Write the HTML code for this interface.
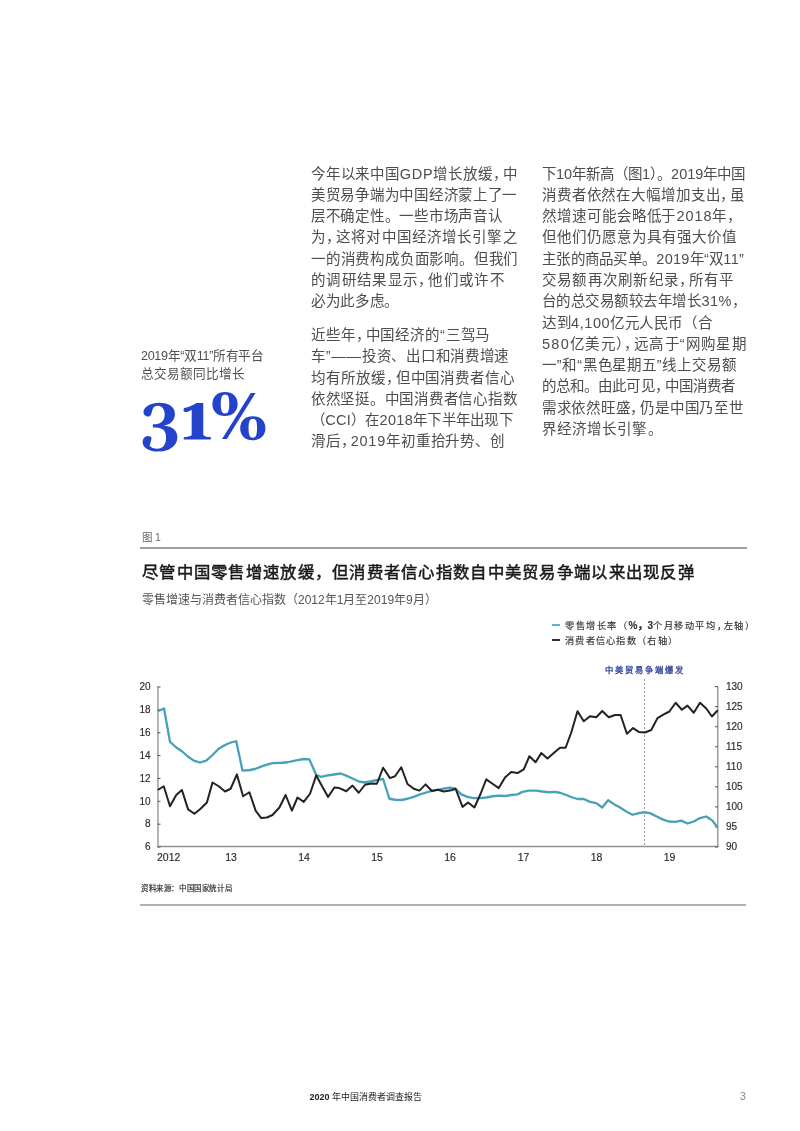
<!DOCTYPE html>
<html lang="zh-CN">
<head>
<meta charset="utf-8">
<style>
html,body{margin:0;padding:0;background:#fff;}
body{width:800px;height:1131px;position:relative;overflow:hidden;font-family:"Liberation Sans",sans-serif;}
.a{position:absolute;white-space:nowrap;}
.body{font-size:14.5px;line-height:21.3px;color:#4d4d4d;}
.body div{height:21.3px;}
.c{letter-spacing:-4px;}
.leg{font-size:9.2px;line-height:12px;color:#333;letter-spacing:1.6px;-webkit-text-stroke:0.15px #333;}
.lc{letter-spacing:-2px;}
.side{font-size:12.6px;line-height:18.5px;color:#505050;}
</style>
</head>
<body>
<div id="w" style="position:absolute;left:0;top:0;width:800px;height:1131px;filter:blur(0.3px);">

<!-- column 1 -->
<div class="a body" style="left:311px;top:163.5px;">
<div style="letter-spacing:0.779px">今年以来中国GDP增长放缓<span class="c">，</span>中</div>
<div style="letter-spacing:0.727px">美贸易争端为中国经济蒙上了一</div>
<div style="letter-spacing:0.733px">层不确定性。一些市场声音认</div>
<div style="letter-spacing:1.127px">为<span class="c">，</span>这将对中国经济增长引擎之</div>
<div style="letter-spacing:0.804px">一的消费构成负面影响。但我们</div>
<div style="letter-spacing:1.333px">的调研结果显示<span class="c">，</span>他们或许不</div>
<div style="letter-spacing:0.650px">必为此多虑。</div>
</div>
<div class="a body" style="left:311px;top:325px;">
<div style="letter-spacing:0.867px">近些年<span class="c">，</span>中国经济的“三驾马</div>
<div style="letter-spacing:0.742px">车”——投资、出口和消费增速</div>
<div style="letter-spacing:0.927px">均有所放缓<span class="c">，</span>但中国消费者信心</div>
<div style="letter-spacing:0.742px">依然坚挺。中国消费者信心指数</div>
<div style="letter-spacing:0.275px">（CCI）在2018年下半年出现下</div>
<div style="letter-spacing:0.807px">滑后<span class="c">，</span>2019年初重拾升势、创</div>
</div>
<div class="a body" style="left:542px;top:163.5px;">
<div style="letter-spacing:-0.009px">下10年新高（图1）。2019年中国</div>
<div style="letter-spacing:0.865px">消费者依然在大幅增加支出<span class="c">，</span>虽</div>
<div style="letter-spacing:0.936px">然增速可能会略低于2018年<span class="c">，</span></div>
<div style="letter-spacing:1.033px">但他们仍愿意为具有强大价值</div>
<div style="letter-spacing:0.285px">主张的商品买单。2019年“双11”</div>
<div style="letter-spacing:1.217px">交易额再次刷新纪录<span class="c">，</span>所有平</div>
<div style="letter-spacing:0.493px">台的总交易额较去年增长31%<span class="c">，</span></div>
<div style="letter-spacing:0.558px">达到4,100亿元人民币（合</div>
<div style="letter-spacing:1.263px">580亿美元）<span class="c">，</span>远高于“网购星期</div>
<div style="letter-spacing:0.793px">一”和“黑色星期五”线上交易额</div>
<div style="letter-spacing:0.081px">的总和。由此可见<span class="c">，</span>中国消费者</div>
<div style="letter-spacing:0.742px">需求依然旺盛<span class="c">，</span>仍是中国乃至世</div>
<div style="letter-spacing:1.079px">界经济增长引擎。</div>
</div>
<!-- sidebar -->
<div class="a side" style="left:141px;top:346.5px;">
<div style="letter-spacing:-0.35px">2019年“双11”所有平台</div>
<div>总交易额同比增长</div>
</div>
<svg class="a" style="left:0;top:0" width="800" height="1131">
<path fill="#2443cb" transform="translate(140.602,439.622) scale(0.03074,-0.03056)" d="M547 -392Q453 -392 366.0 -371.0Q279 -350 211.5 -309.5Q144 -269 104.5 -211.0Q65 -153 65 -78Q65 -14 93.0 29.0Q121 72 159.0 94.5Q197 117 226 117Q291 117 321.0 94.0Q351 71 358 46L295 -197Q295 -197 318.5 -222.0Q342 -247 395.0 -272.0Q448 -297 538 -297Q684 -297 757.0 -201.0Q830 -105 830 46Q830 146 806.5 213.0Q783 280 740.5 319.5Q698 359 640.5 376.0Q583 393 515 393H422Q410 393 404.0 403.0Q398 413 398 449Q398 484 404.0 494.5Q410 505 422 505H495Q548 505 599.5 524.0Q651 543 692.5 582.0Q734 621 759.0 680.5Q784 740 784 821Q784 859 774.5 908.0Q765 957 740.5 1002.5Q716 1048 672.0 1078.0Q628 1108 560 1108Q525 1108 494.5 1098.5Q464 1089 439.0 1066.0Q414 1043 394 1002Q379 956 367.0 909.5Q355 863 344 834Q329 792 300.0 773.5Q271 755 238 755Q203 755 170.0 773.0Q137 791 115.5 823.0Q94 855 94 896Q94 965 135.5 1021.5Q177 1078 249.5 1119.0Q322 1160 414.0 1182.5Q506 1205 606 1205Q847 1205 981.5 1104.5Q1116 1004 1116 840Q1116 763 1089.5 697.5Q1063 632 1015.0 582.0Q967 532 902.0 499.5Q837 467 761 456Q891 455 989.0 408.0Q1087 361 1142.0 275.5Q1197 190 1197 73Q1197 -54 1124.0 -159.5Q1051 -265 906.5 -328.5Q762 -392 547 -392Z"/>
<path fill="#2443cb" transform="translate(178.994,439.600) scale(0.03548,-0.03078)" d="M163 0Q146 0 137.5 15.0Q129 30 129 41Q129 57 136.0 70.0Q143 83 162 85Q194 88 240.0 94.5Q286 101 321.5 114.0Q357 127 357 149L358 969Q315 935 265.5 914.0Q216 893 182 893Q148 893 137.5 919.5Q127 946 127 957Q127 980 134.5 1006.0Q142 1032 163 1033Q186 1035 231.5 1050.5Q277 1066 328.5 1089.5Q380 1113 423.5 1139.5Q467 1166 486 1189H685L684 182Q684 146 708.5 125.5Q733 105 774.0 96.0Q815 87 866 85Q887 84 894.5 74.0Q902 64 902 41Q902 30 893.5 15.0Q885 0 868 0Z"/>
<path fill="#2443cb" transform="translate(209.421,439.063) scale(0.03274,-0.03248)" d="M386 0 1263 1419H1410L531 0ZM470.0975609756098 711Q297 711 194.0 809.5Q91 908 91 1076Q91 1248 196.0 1348.5Q301 1449 474.27868852459017 1449Q652.1475409836065 1449 756.5737704918033 1348.5Q861 1248 861 1076Q861 908 754.390243902439 809.5Q647.780487804878 711 470.0975609756098 711ZM474 788Q552 788 579.0 859.5Q606 931 606 1076Q606 1247 579.0 1309.5Q552 1372 474 1372Q401 1372 373.0 1298.5Q345 1225 345 1076Q345 931 373.0 859.5Q401 788 474 788ZM1319.0975609756097 -35Q1146 -35 1043.0 63.5Q940 162 940 330Q940 502 1045.0 602.5Q1150 703 1323.27868852459 703Q1501.1475409836066 703 1605.5737704918033 602.5Q1710 502 1710 330Q1710 162 1603.3902439024391 63.5Q1496.780487804878 -35 1319.0975609756097 -35ZM1323 42Q1401 42 1428.0 113.5Q1455 185 1455 330Q1455 501 1428.0 563.5Q1401 626 1323 626Q1250 626 1222.0 552.5Q1194 479 1194 330Q1194 185 1222.0 113.5Q1250 42 1323 42Z"/>
</svg>


<!-- figure -->
<div class="a" style="left:142px;top:528.5px;font-size:10.5px;color:#666;">图 1</div>
<div class="a" style="left:140px;top:547.3px;width:606.5px;height:1.4px;background:#a0a0a0;"></div>
<div class="a" style="left:142px;top:559px;font-size:16.4px;letter-spacing:1.28px;font-weight:400;color:#1a1a1a;-webkit-text-stroke:0.5px #1a1a1a;">尽管中国零售增速放缓，但消费者信心指数自中美贸易争端以来出现反弹</div>
<div class="a" style="left:142px;top:590px;font-size:12px;color:#555;">零售增速与消费者信心指数（2012年1月至2019年9月）</div>
<div class="a" style="left:551.9px;top:624px;width:8.2px;height:2px;background:#5ab4cc;"></div>
<div class="a" style="left:551.9px;top:638.8px;width:8.2px;height:2px;background:#333;"></div>
<div class="a leg" style="left:565px;top:619.8px;">零售增长率（<span style="letter-spacing:0;font-weight:bold;font-size:10px">%，3</span>个月移动平均<span class="lc">，</span>左轴<span style="letter-spacing:0">）</span></div>
<div class="a leg" style="left:565px;top:634.8px;letter-spacing:1.3px;">消费者信心指数（右轴<span style="letter-spacing:0">）</span></div>
<div class="a" style="left:604.5px;top:662.5px;font-size:8.3px;color:#3a4c9e;letter-spacing:2.05px;-webkit-text-stroke:0.35px #3a4c9e;">中美贸易争端爆发</div>
<svg class="a" style="left:0;top:0" width="800" height="1131" font-family="Liberation Sans" font-size="10" fill="#2a2a2a" stroke="#2a2a2a" stroke-width="0.15">
<line x1="644.5" y1="679" x2="644.5" y2="846" stroke="#999" stroke-width="1" stroke-dasharray="2,2"/>
<g stroke="#8f8f8f" stroke-width="1.3" fill="none">
<line x1="158" y1="686.5" x2="158" y2="847"/>
<line x1="717.8" y1="686.5" x2="717.8" y2="847"/>
<line x1="157.4" y1="846.5" x2="718.4" y2="846.5"/>
</g>
<g stroke="#555" stroke-width="1"><line x1="157.5" x2="160.5" y1="687.00" y2="687.00"/><line x1="157.5" x2="160.5" y1="709.86" y2="709.86"/><line x1="157.5" x2="160.5" y1="732.72" y2="732.72"/><line x1="157.5" x2="160.5" y1="755.58" y2="755.58"/><line x1="157.5" x2="160.5" y1="778.44" y2="778.44"/><line x1="157.5" x2="160.5" y1="801.30" y2="801.30"/><line x1="157.5" x2="160.5" y1="824.16" y2="824.16"/><line x1="157.5" x2="160.5" y1="847.02" y2="847.02"/><line x1="715" x2="718" y1="686.60" y2="686.60"/><line x1="715" x2="718" y1="706.65" y2="706.65"/><line x1="715" x2="718" y1="726.70" y2="726.70"/><line x1="715" x2="718" y1="746.75" y2="746.75"/><line x1="715" x2="718" y1="766.80" y2="766.80"/><line x1="715" x2="718" y1="786.85" y2="786.85"/><line x1="715" x2="718" y1="806.90" y2="806.90"/><line x1="715" x2="718" y1="826.95" y2="826.95"/><line x1="715" x2="718" y1="847.00" y2="847.00"/></g>
<polyline points="157.75,711.25 164,708.5 170,741.9 176.25,747.5 181.9,751.25 187.5,756.25 193.75,760.6 200,762.5 206.25,760.6 212.5,755 218.75,748.75 225,745 231,742.5 236.25,741.25 242.5,770.6 250,770 255,769 263.75,765.6 272.5,763.1 282.5,762.75 287.5,762.25 295,760.6 303.75,759 309.4,759.4 316.25,775 321.25,776.9 326.25,775.6 332.5,774.75 340.6,773.5 346.25,775.6 352.5,778.5 358.75,781.5 365,782.5 371.25,781.25 377.5,780 383.1,779 389.4,798.75 395,799.75 401.25,800 407.5,798.75 413.75,796.9 420,794.4 426.25,792.5 432.5,790.6 440,789.4 442.5,788.75 450,787.75 455.6,788.75 461.25,794.4 467.5,796.9 473.75,798.1 480,798.1 486.25,797.5 492.5,796.25 498.75,795.6 505,796 511.25,795 517.5,794.4 522.5,791.9 528.75,790.6 536.25,790.6 542.5,791.5 548.75,792.25 555,791.9 560,792.75 566.25,795 571.9,797.25 577.5,799 583.75,799 590,801.9 596.25,803.1 602.25,807.5 608.1,800.25 614.4,804.4 620,807.5 626.25,811.5 632.5,814.75 638.75,813.1 644.4,812.25 650,813.1 656.25,816.25 662.5,819.4 668.75,821.5 675,821.9 681.25,820.6 687.5,823.5 693.75,821.5 700,818.1 706.25,816.5 712.5,820.6 717.5,827.5" fill="none" stroke="#47a1b8" stroke-width="2.3" stroke-linejoin="round"/>
<polyline points="157.75,790 163.75,786.25 170,806.25 176.25,795 181.9,790 188.1,809.4 194.4,813.75 200.6,808.75 206.9,802.5 212.5,782.5 218.75,786.25 225,791.5 230.6,788.75 236.9,774.4 243.1,796.25 249.4,792.25 255.6,810.6 261.25,818.1 266.9,817.5 272.5,815 279.4,807.5 285.6,795 291.9,810.6 297.5,797.5 303.75,801.9 310,793.75 316.25,775.4 322.5,786.9 328.1,796.9 334.4,787.5 339.4,788.1 346.25,791.25 352.5,785.6 358.75,792.75 365,784.75 371.25,783.5 376.9,783.75 383.1,767.75 390,778.1 395,776.25 401.25,767.25 407.5,784 413.75,788.75 419.4,790.6 425.6,784.4 431.9,791 438,789.75 443.75,791.5 450,790.6 455.6,788.75 462.5,806.9 468.1,802.5 474.4,807.5 480.6,793.75 486.25,779.4 492.5,783.75 498.75,788.1 505,777.5 511.25,771.9 517.5,773.1 523.75,769.4 529.4,756.25 535.6,762.25 541.25,753.1 547.5,758.5 553.75,753.1 560,747.75 565.6,747.75 571.25,732.5 577.5,711.25 583.75,721.25 590,716.25 596.25,717.25 602.25,711 608.75,717.25 615,715 620.6,715 626.9,733.75 633.1,728.1 638.75,731.9 645,732.5 651.25,730 657.5,718.1 663.75,714.4 669.4,711.5 675.6,702.75 681.9,709.75 687.5,705.6 693.75,712.75 700,702.75 706.25,708.5 711.9,716.5 717.75,710.25" fill="none" stroke="#222" stroke-width="2" stroke-linejoin="round"/>
<text x="150.5" y="690.30" text-anchor="end">20</text>
<text x="150.5" y="713.16" text-anchor="end">18</text>
<text x="150.5" y="736.02" text-anchor="end">16</text>
<text x="150.5" y="758.88" text-anchor="end">14</text>
<text x="150.5" y="781.74" text-anchor="end">12</text>
<text x="150.5" y="804.60" text-anchor="end">10</text>
<text x="150.5" y="827.46" text-anchor="end">8</text>
<text x="150.5" y="850.32" text-anchor="end">6</text>
<text x="726" y="689.90">130</text>
<text x="726" y="709.95">125</text>
<text x="726" y="730.00">120</text>
<text x="726" y="750.05">115</text>
<text x="726" y="770.10">110</text>
<text x="726" y="790.15">105</text>
<text x="726" y="810.20">100</text>
<text x="726" y="830.25">95</text>
<text x="726" y="850.30">90</text>

<g font-size="10.5"><text x="157" y="860.5">2012</text>
<text x="231" y="860.5" text-anchor="middle">13</text>
<text x="304" y="860.5" text-anchor="middle">14</text>
<text x="377" y="860.5" text-anchor="middle">15</text>
<text x="450" y="860.5" text-anchor="middle">16</text>
<text x="523.5" y="860.5" text-anchor="middle">17</text>
<text x="596.5" y="860.5" text-anchor="middle">18</text>
<text x="669.5" y="860.5" text-anchor="middle">19</text>
</g>
</svg>
<div class="a" style="left:141px;top:882px;font-size:7.5px;color:#333;letter-spacing:0.6px;-webkit-text-stroke:0.2px #333;">资料来源：中国国家统计局</div>
<div class="a" style="left:140px;top:904.3px;width:605.5px;height:1.4px;background:#b0b0b0;"></div>

<!-- footer -->
<div class="a" style="left:309.5px;top:1090px;font-size:9px;color:#222;"><b>2020</b> 年中国消费者调查报告</div>
<div class="a" style="left:740px;top:1089.5px;font-size:10.5px;color:#888;">3</div>

</div>
</body>
</html>
